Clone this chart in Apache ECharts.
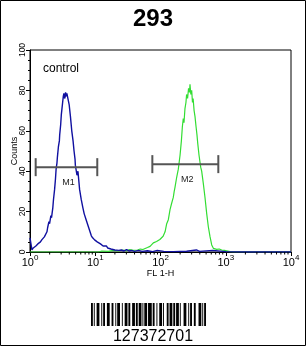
<!DOCTYPE html>
<html>
<head>
<meta charset="utf-8">
<style>
  html, body { margin: 0; padding: 0; background: #fff; }
  #chart { width: 306px; height: 350px; }
</style>
<script src="https://cdn.jsdelivr.net/npm/echarts@6.0.0/dist/echarts.min.js"></script>
</head>
<body>
<div id="chart"></div>
<script>
// x = log10(FL1-H), y = counts
const controlX = [0.00, 0.02, 0.03, 0.05, 0.07, 0.09, 0.11, 0.12, 0.14, 0.16, 0.18, 0.20, 0.22, 0.24, 0.26, 0.27,
    0.29, 0.30, 0.32, 0.33, 0.35, 0.36, 0.377, 0.39, 0.40, 0.413, 0.42, 0.435, 0.45, 0.455, 0.47, 0.48, 0.49,
    0.50, 0.51, 0.52, 0.53, 0.54, 0.545, 0.555, 0.565, 0.58, 0.60, 0.62, 0.64, 0.66, 0.675, 0.69, 0.695, 0.72,
    0.735, 0.76, 0.785, 0.81, 0.83, 0.86, 0.89, 0.91, 0.94, 0.96, 0.99, 1.01, 1.03, 1.06, 1.08, 1.10, 1.12,
    1.14, 1.17, 1.19, 1.21, 1.24, 1.27, 1.30, 1.33, 1.36, 1.40, 1.44, 1.48, 1.52, 1.56, 1.60, 1.66, 1.72,
    1.80, 1.88, 1.95, 2.05, 2.20, 2.40, 2.55, 2.60, 2.80, 2.83, 3.00, 3.30, 4.00];
const controlY = [7, 3, 1, 2, 1.5, 3, 2.5, 4, 3.5, 5, 6, 5.5, 7.5, 8, 10, 12,
    15, 14, 18, 17, 22, 26, 31, 36, 41, 44, 47, 52, 55, 58, 63, 68, 71,
    74, 77, 78.5, 76, 77, 79, 77, 78.5, 78, 73, 67, 60, 55, 50, 46, 43, 38,
    40, 31, 26, 22, 19, 16, 13, 11, 8, 7, 6, 6.5, 5, 4.5, 4, 4.5, 3,
    3.5, 3, 2, 2.5, 1.5, 1.8, 1, 1.2, 0.8, 1, 0.5, 1.2, 0.5, 0.8, 0.3, 0.8, 0.3,
    0.6, 0.2, 0.8, 0.3, 0.2, 0.4, 1, 0.3, 0.8, 0.2, 0.2, 0, 0];

const sampleX = [0.00, 1.05, 1.10, 1.20, 1.28, 1.35, 1.42, 1.48, 1.53, 1.58, 1.61, 1.65, 1.69, 1.73, 1.76, 1.80,
    1.84, 1.87, 1.89, 1.92, 1.94, 1.97, 1.99, 2.02, 2.04, 2.06, 2.07, 2.095, 2.12, 2.146, 2.17, 2.196, 2.21,
    2.222, 2.248, 2.273, 2.30, 2.32, 2.335, 2.349, 2.36, 2.375, 2.39, 2.40, 2.415, 2.43, 2.445, 2.452, 2.465,
    2.478, 2.49, 2.50, 2.515, 2.529, 2.545, 2.559, 2.57, 2.59, 2.616, 2.631, 2.656, 2.682, 2.708, 2.733,
    2.759, 2.785, 2.81, 2.835, 2.861, 2.90, 2.938, 2.98, 3.015, 3.065, 3.12, 4.00];
const sampleY = [0, 0, 0.5, 0.3, 0.8, 0.5, 1, 0.6, 1.2, 0.8, 1.5, 1, 1.5, 1.2, 2, 2.2,
    2.8, 3.5, 4.5, 4, 5.2, 5.5, 6.2, 6.8, 7.8, 8.5, 10, 14, 16, 21, 24, 27, 30,
    32, 37, 41, 48, 55, 62, 66, 64, 71, 74, 78, 76, 81, 79, 83, 78,
    80, 74, 76, 70, 67, 62, 58, 54, 48, 42, 40, 34, 27, 19, 12.5,
    7.6, 3.5, 1.8, 2.2, 1.3, 1.5, 1, 0.8, 0.6, 0.2, 0, 0];

const markerNames = ['M1', 'M2'];
const markerFrom = [0.087, 1.875];
const markerTo = [1.031, 2.886];
const markerLevel = [42, 43.5];

const decades = [0, 1, 2, 3];
const minorSteps = [2, 3, 4, 5, 6, 7, 8, 9];

const titleText = '293';
const controlLabel = 'control';
const barcodeText = '127372701';
const barcodeModules = '11010011100' + '10110011100' + '11001011100' + '10011101100' +
    '11101101110' + '10111011110' + '11001001110' + '10001101110' +
    '11011101000' + '11100101100' + '1100011101011';

const FONT = 'Liberation Sans, Arial, sans-serif';

// barcode bars
const barcodeBars = [];
(function () {
    const x0 = 91, w = 115 / barcodeModules.length;
    let i = 0;
    while (i < barcodeModules.length) {
        if (barcodeModules[i] === '1') {
            let j = i;
            while (j < barcodeModules.length && barcodeModules[j] === '1') j++;
            barcodeBars.push({
                type: 'rect',
                shape: { x: x0 + i * w, y: 303, width: (j - i) * w, height: 23 },
                style: { fill: '#000' }
            });
            i = j;
        } else {
            i++;
        }
    }
})();

const minorTickData = [];
decades.forEach(d => minorSteps.forEach(k => minorTickData.push([d, k])));

const markerData = markerNames.map((n, i) => [markerFrom[i], markerTo[i], markerLevel[i], i]);

const chart = echarts.init(document.getElementById('chart'));
chart.setOption({
    animation: false,
    title: {
        text: titleText,
        left: 'center',
        top: 2,
        textStyle: { fontFamily: FONT, fontSize: 24, fontWeight: 'bold', color: '#000' }
    },
    grid: {
        left: 30, right: 15, top: 50, bottom: 98,
        outerBoundsMode: 'none',
        containLabel: false,
        show: true, borderColor: '#000', borderWidth: 1
    },
    xAxis: {
        type: 'value',
        min: 0, max: 4, interval: 1,
        name: 'FL 1-H',
        nameLocation: 'middle',
        nameGap: 17,
        nameMoveOverlap: false,
        nameTextStyle: { fontFamily: FONT, fontSize: 9, color: '#000' },
        axisLine: { lineStyle: { color: '#000', width: 1 } },
        axisTick: { length: 4, lineStyle: { color: '#000' } },
        splitLine: { show: false },
        axisLabel: {
            margin: 2,
            formatter: v => '{b|10}{s|' + v + '}',
            rich: {
                b: { fontFamily: FONT, fontSize: 11, color: '#000', lineHeight: 14, verticalAlign: 'bottom' },
                s: { fontFamily: FONT, fontSize: 8, color: '#000', lineHeight: 14, verticalAlign: 'top' }
            }
        }
    },
    yAxis: {
        type: 'value',
        min: 0, max: 100, interval: 20,
        name: 'Counts',
        nameLocation: 'middle',
        nameGap: 11,
        nameMoveOverlap: false,
        nameTextStyle: { fontFamily: FONT, fontSize: 9, color: '#000' },
        axisLine: { show: true, lineStyle: { color: '#000', width: 1 } },
        axisTick: { show: true, length: 4, lineStyle: { color: '#000' } },
        minorTick: { show: true, splitNumber: 4, length: 2, lineStyle: { color: '#000' } },
        splitLine: { show: false },
        axisLabel: { rotate: 90, margin: 3, fontFamily: FONT, fontSize: 8.5, color: '#000' }
    },
    series: [
        {
            type: 'line',
            data: sampleX.map((x, i) => [x, sampleY[i]]),
            showSymbol: false,
            lineStyle: { color: '#33dd33', width: 1.2 },
            z: 2
        },
        {
            type: 'line',
            data: controlX.map((x, i) => [x, controlY[i]]),
            showSymbol: false,
            lineStyle: { color: '#1010a0', width: 1.4 },
            z: 3
        },
        {
            // log-spaced minor ticks on the FL1-H axis
            type: 'custom',
            data: minorTickData,
            silent: true,
            renderItem: (params, api) => {
                const p = api.coord([api.value(0) + Math.log10(api.value(1)), 0]);
                return {
                    type: 'line',
                    shape: { x1: p[0], y1: p[1], x2: p[0], y2: p[1] + 2.5 },
                    style: { stroke: '#000', lineWidth: 1 }
                };
            },
            z: 4
        },
        {
            // M1 / M2 gates
            type: 'custom',
            data: markerData,
            silent: true,
            renderItem: (params, api) => {
                const a = api.coord([api.value(0), api.value(2)]);
                const b = api.coord([api.value(1), api.value(2)]);
                const st = { stroke: '#555', lineWidth: 2 };
                return {
                    type: 'group',
                    children: [
                        { type: 'line', shape: { x1: a[0], y1: a[1], x2: b[0], y2: b[1] }, style: st },
                        { type: 'line', shape: { x1: a[0], y1: a[1] - 9, x2: a[0], y2: a[1] + 9 }, style: st },
                        { type: 'line', shape: { x1: b[0], y1: b[1] - 9, x2: b[0], y2: b[1] + 9 }, style: st },
                        {
                            type: 'text',
                            style: {
                                text: markerNames[api.value(3)],
                                x: (a[0] + b[0]) / 2 + 2, y: a[1] + 15,
                                align: 'center', verticalAlign: 'middle',
                                font: '9px ' + FONT, fill: '#222'
                            }
                        }
                    ]
                };
            },
            z: 5
        }
    ],
    graphic: [
        {
            type: 'text',
            left: 43, top: 63,
            style: { text: controlLabel, font: '12px ' + FONT, fill: '#000' }
        },
        {
            type: 'group',
            children: barcodeBars
        },
        {
            type: 'text',
            style: {
                text: barcodeText, x: 153, y: 337,
                align: 'center', verticalAlign: 'middle',
                font: '16px ' + FONT, fill: '#000'
            }
        },
        {
            type: 'rect',
            shape: { x: 0.5, y: 0.5, width: 305, height: 345 },
            style: { fill: 'none', stroke: '#000', lineWidth: 1 }
        }
    ]
});
</script>
</body>
</html>
